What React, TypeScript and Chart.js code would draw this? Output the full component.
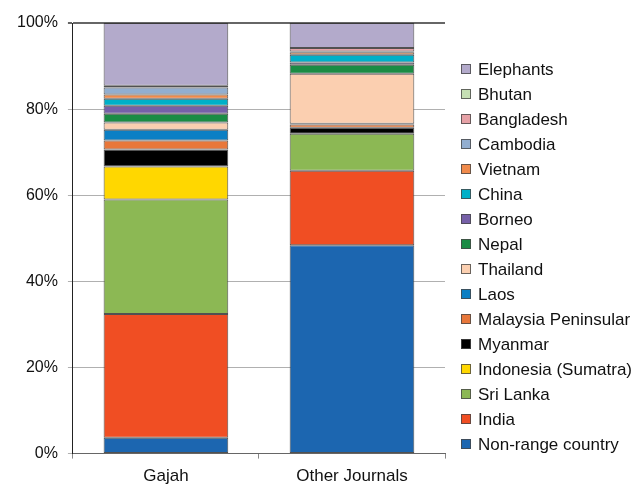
import React, { useEffect, useRef } from "react";
import { Chart, registerables } from "chart.js";

Chart.register(...registerables);

const categories = ["Gajah", "Other Journals"];
const seriesNames = [
  "Non-range country",
  "India",
  "Sri Lanka",
  "Indonesia (Sumatra)",
  "Myanmar",
  "Malaysia Peninsular",
  "Laos",
  "Thailand",
  "Nepal",
  "Borneo",
  "China",
  "Vietnam",
  "Cambodia",
  "Bangladesh",
  "Bhutan",
  "Elephants",
];
const gajahValues = [3.7, 28.7, 26.6, 7.7, 3.9, 2.1, 2.5, 1.7, 2.0, 1.9, 1.6, 1.0, 1.6, 0.4, 0, 14.6];
const otherValues = [48.4, 17.3, 8.6, 0, 1.4, 0.7, 0.2, 11.6, 2.1, 0.5, 1.8, 0.6, 0.2, 0.8, 0, 5.8];
const seriesColors = [
  "#1c66b0",
  "#f04e23",
  "#8cb854",
  "#ffd700",
  "#000000",
  "#e8773a",
  "#0b7fc4",
  "#fbcfb0",
  "#1a8c44",
  "#7660a8",
  "#00b0c8",
  "#f08a4b",
  "#92aed0",
  "#e6a1a6",
  "#c6e0b4",
  "#b3aacb",
];
const yTicks = [0, 20, 40, 60, 80, 100];

const FONT = "Liberation Sans, Arial, sans-serif";

const sideLegend = {
  id: "sideLegend",
  afterDraw(chart: any) {
    const ctx = chart.ctx;
    const area = chart.chartArea;
    const ds = chart.data.datasets;
    const n = ds.length;
    const step = 25;
    const x0 = area.right + 16;
    const yTop = area.top + 46;
    ctx.save();
    ctx.font = "17px " + FONT;
    ctx.textBaseline = "middle";
    ctx.textAlign = "left";
    for (let k = 0; k < n; k++) {
      const d = ds[n - 1 - k];
      const y = yTop + k * step;
      ctx.fillStyle = d.backgroundColor;
      ctx.fillRect(x0, y - 5, 10, 10);
      ctx.strokeStyle = "rgba(70,70,70,0.8)";
      ctx.lineWidth = 1;
      ctx.strokeRect(x0 + 0.5, y - 4.5, 9, 9);
      ctx.fillStyle = "#111";
      ctx.fillText(d.label, x0 + 17, y + 1);
    }
    ctx.restore();
  },
};

export default function App() {
  const ref = useRef<HTMLCanvasElement | null>(null);
  useEffect(() => {
    if (!ref.current) return;
    const chart = new Chart(ref.current, {
      type: "bar",
      data: {
        labels: categories,
        datasets: seriesNames.map((name, i) => ({
          label: name,
          data: [gajahValues[i], otherValues[i]],
          backgroundColor: seriesColors[i],
          borderColor: "rgba(50,50,50,0.85)",
          borderWidth: 1,
          borderSkipped: false,
          barPercentage: 0.67,
          categoryPercentage: 1,
        })),
      },
      plugins: [sideLegend],
      options: {
        animation: false,
        responsive: false,
        maintainAspectRatio: false,
        layout: { padding: { top: 23, left: 7, right: 193, bottom: -7 } },
        plugins: {
          tooltip: { enabled: false },
          legend: { display: false },
        },
        scales: {
          x: {
            stacked: true,
            grid: {
              offset: true,
              drawOnChartArea: false,
              drawTicks: true,
              tickLength: 5,
              color: "#888",
            },
            border: { color: "#666", width: 1 },
            ticks: {
              color: "#111",
              padding: 8,
              font: { family: FONT, size: 17 },
            },
          },
          y: {
            stacked: true,
            min: 0,
            max: 100,
            afterBuildTicks: (axis: any) => {
              axis.ticks = yTicks.map((v) => ({ value: v }));
            },
            grid: {
              color: (ctx: any) => (ctx.tick && ctx.tick.value === 100 ? "#666" : "#b0b0b0"),
              lineWidth: (ctx: any) => (ctx.tick && ctx.tick.value === 100 ? 2 : 1),
              tickLength: 5,
            },
            border: { color: "#222", width: 1 },
            ticks: {
              color: "#111",
              padding: 10,
              callback: (v: any) => v + "%",
              font: { family: FONT, size: 16 },
            },
          },
        },
      },
    });
    return () => chart.destroy();
  }, []);
  return (
    <div style={{ position: "absolute", left: 0, top: 0, width: 638, height: 488, background: "#fff" }}>
      <canvas ref={ref} width={638} height={488} style={{ width: 638, height: 488 }} />
    </div>
  );
}
